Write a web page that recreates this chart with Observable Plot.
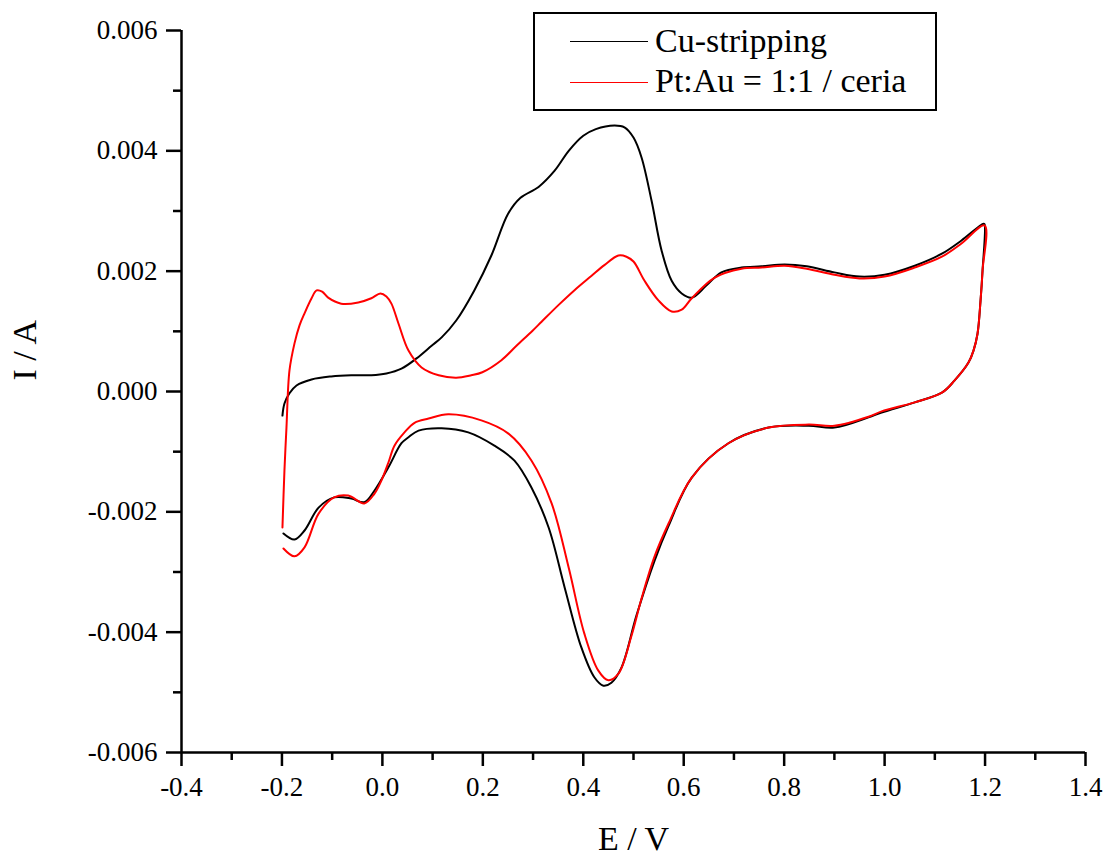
<!DOCTYPE html>
<html>
<head>
<meta charset="utf-8">
<script src="https://cdn.jsdelivr.net/npm/d3@7"></script>
<script src="https://cdn.jsdelivr.net/npm/@observablehq/plot@0.6"></script>
<style>
  html, body { margin: 0; padding: 0; background: #fff; }
  #wrap { position: relative; width: 1106px; height: 858px; font-family: 'Liberation Serif', 'Times New Roman', Times, serif; }
  #legend { position: absolute; left: 533px; top: 12px; width: 400px; height: 95px; border: 2px solid #000; background: #fff; box-sizing: content-box; }
  #legend .sw { position: absolute; left: 35px; width: 78px; height: 0; border-top: 1.5px solid; }
  #legend .lab { position: absolute; left: 120px; font-family: 'Liberation Serif', 'Times New Roman', Times, serif; font-size: 34px; line-height: 34px; color: #000; white-space: nowrap; }
</style>
</head>
<body>
<div id="wrap"></div>
<script>
// Cyclic voltammograms: potential E (V) and current I (A), anodic sweep then cathodic sweep.
const seriesNames = ["Cu-stripping", "Pt:Au = 1:1 / ceria"];
const seriesColors = ["#000000", "#ff0000"];

// Cu-stripping
const cuE = [
  -0.199, -0.195, -0.185, -0.171, -0.141, -0.102, -0.062, -0.022, 0.008, 0.038,
  0.068, 0.098, 0.118, 0.147, 0.183, 0.217, 0.250, 0.275, 0.311, 0.343,
  0.371, 0.400, 0.425, 0.462, 0.482, 0.500, 0.516, 0.536, 0.556, 0.576,
  0.596, 0.616, 0.645, 0.675, 0.715, 0.755, 0.801, 0.845, 0.900, 0.950,
  1.000, 1.060, 1.114, 1.153, 1.197, 1.199,
  1.195, 1.191, 1.185, 1.177, 1.167, 1.139, 1.114, 1.060, 0.994, 0.968,
  0.900, 0.849, 0.769, 0.689, 0.616, 0.570, 0.542, 0.506, 0.476, 0.456,
  0.440, 0.422, 0.396, 0.363, 0.331, 0.297, 0.263, 0.223, 0.171, 0.118,
  0.072, 0.052, 0.038, 0.012, -0.016, -0.036, -0.062, -0.096, -0.127, -0.155,
  -0.175, -0.197
];
const cuI = [
  -0.40e-3, -0.20e-3, -0.03e-3, 0.10e-3, 0.20e-3, 0.25e-3, 0.27e-3, 0.27e-3, 0.30e-3, 0.38e-3,
  0.55e-3, 0.76e-3, 0.90e-3, 1.18e-3, 1.68e-3, 2.26e-3, 2.95e-3, 3.22e-3, 3.40e-3, 3.67e-3,
  4.00e-3, 4.25e-3, 4.36e-3, 4.42e-3, 4.39e-3, 4.22e-3, 3.89e-3, 3.17e-3, 2.34e-3, 1.84e-3,
  1.63e-3, 1.56e-3, 1.76e-3, 1.98e-3, 2.06e-3, 2.08e-3, 2.11e-3, 2.08e-3, 1.98e-3, 1.91e-3,
  1.94e-3, 2.09e-3, 2.29e-3, 2.51e-3, 2.79e-3, 2.78e-3,
  2.01e-3, 1.51e-3, 0.96e-3, 0.68e-3, 0.48e-3, 0.18e-3, -0.02e-3, -0.18e-3, -0.35e-3, -0.43e-3,
  -0.60e-3, -0.57e-3, -0.60e-3, -0.86e-3, -1.43e-3, -2.23e-3, -2.81e-3, -3.72e-3, -4.59e-3, -4.84e-3,
  -4.89e-3, -4.75e-3, -4.25e-3, -3.26e-3, -2.26e-3, -1.60e-3, -1.15e-3, -0.90e-3, -0.68e-3, -0.61e-3,
  -0.65e-3, -0.76e-3, -0.86e-3, -1.26e-3, -1.65e-3, -1.84e-3, -1.78e-3, -1.76e-3, -1.93e-3, -2.31e-3,
  -2.46e-3, -2.36e-3
];

// Pt:Au = 1:1 / ceria
const ptE = [
  -0.199, -0.195, -0.191, -0.185, -0.175, -0.165, -0.155, -0.141, -0.131, -0.120,
  -0.108, -0.082, -0.048, -0.022, -0.004, 0.008, 0.018, 0.032, 0.052, 0.078,
  0.112, 0.147, 0.177, 0.199, 0.237, 0.267, 0.299, 0.317, 0.351, 0.382,
  0.416, 0.442, 0.470, 0.486, 0.500, 0.522, 0.550, 0.576, 0.596, 0.616,
  0.661, 0.715, 0.755, 0.801, 0.845, 0.900, 0.950, 1.000, 1.060, 1.114,
  1.153, 1.199,
  1.195, 1.191, 1.185, 1.177, 1.167, 1.139, 1.114, 1.060, 0.994, 0.968,
  0.900, 0.849, 0.769, 0.689, 0.616, 0.570, 0.542, 0.516, 0.496, 0.470,
  0.450, 0.430, 0.402, 0.371, 0.337, 0.297, 0.251, 0.197, 0.131, 0.092,
  0.064, 0.044, 0.024, 0.012, -0.002, -0.016, -0.036, -0.068, -0.096, -0.127,
  -0.155, -0.175, -0.197
];
const ptI = [
  -2.26e-3, -1.31e-3, -0.60e-3, 0.35e-3, 0.80e-3, 1.10e-3, 1.30e-3, 1.55e-3, 1.68e-3, 1.66e-3,
  1.56e-3, 1.46e-3, 1.48e-3, 1.55e-3, 1.63e-3, 1.58e-3, 1.46e-3, 1.13e-3, 0.68e-3, 0.40e-3,
  0.27e-3, 0.23e-3, 0.27e-3, 0.32e-3, 0.52e-3, 0.76e-3, 1.01e-3, 1.16e-3, 1.44e-3, 1.68e-3,
  1.92e-3, 2.10e-3, 2.26e-3, 2.24e-3, 2.16e-3, 1.84e-3, 1.51e-3, 1.33e-3, 1.36e-3, 1.55e-3,
  1.89e-3, 2.04e-3, 2.06e-3, 2.09e-3, 2.04e-3, 1.94e-3, 1.88e-3, 1.91e-3, 2.06e-3, 2.24e-3,
  2.46e-3, 2.76e-3,
  2.01e-3, 1.51e-3, 0.96e-3, 0.68e-3, 0.48e-3, 0.18e-3, -0.02e-3, -0.18e-3, -0.33e-3, -0.42e-3,
  -0.57e-3, -0.55e-3, -0.60e-3, -0.86e-3, -1.43e-3, -2.19e-3, -2.74e-3, -3.44e-3, -4.06e-3, -4.69e-3,
  -4.80e-3, -4.64e-3, -4.02e-3, -2.93e-3, -1.86e-3, -1.15e-3, -0.70e-3, -0.48e-3, -0.38e-3, -0.45e-3,
  -0.52e-3, -0.68e-3, -0.90e-3, -1.18e-3, -1.48e-3, -1.70e-3, -1.86e-3, -1.73e-3, -1.76e-3, -2.03e-3,
  -2.59e-3, -2.74e-3, -2.61e-3
];

// Axis ticks
const xMajor = [-0.4, -0.2, 0.0, 0.2, 0.4, 0.6, 0.8, 1.0, 1.2, 1.4];
const xMinor = [-0.3, -0.1, 0.1, 0.3, 0.5, 0.7, 0.9, 1.1, 1.3];
const yMajor = [-0.006, -0.004, -0.002, 0.000, 0.002, 0.004, 0.006];
const yMinor = [-0.005, -0.003, -0.001, 0.001, 0.003, 0.005];

const toRows = (E, I) => E.map((e, i) => ({E: e, I: I[i]}));
const cuRows = toRows(cuE, cuI);
const ptRows = toRows(ptE, ptI);

const serif = "'Liberation Serif', 'Times New Roman', Times, serif";

const chart = Plot.plot({
  width: 1106,
  height: 858,
  marginLeft: 181,
  marginRight: 21,
  marginTop: 30,
  marginBottom: 106,
  x: {domain: [-0.4, 1.4]},
  y: {domain: [-0.006, 0.006]},
  style: {fontFamily: serif, fontSize: "28px", color: "#000", background: "#fff"},
  marks: [
    // current curves (black first, red drawn over it)
    Plot.line(cuRows, {x: "E", y: "I", stroke: seriesColors[0], strokeWidth: 2, curve: "catmull-rom"}),
    Plot.line(ptRows, {x: "E", y: "I", stroke: seriesColors[1], strokeWidth: 2, curve: "catmull-rom"}),
    // axis lines
    Plot.ruleX([-0.4], {stroke: "#000", strokeWidth: 2.5}),
    Plot.ruleY([-0.006], {stroke: "#000", strokeWidth: 2.5}),
    // y axis
    Plot.axisY(yMajor, {tickSize: 15, tickPadding: 9, strokeWidth: 2.5, tickFormat: d => d.toFixed(3), fontSize: 27, fontFamily: serif, fontVariant: "normal", label: null}),
    Plot.axisY(yMinor, {tickSize: 8, strokeWidth: 2.5, tickFormat: () => "", label: null}),
    // x axis
    Plot.axisX(xMajor, {tickSize: 14, tickPadding: 10, strokeWidth: 2.5, tickFormat: d => d.toFixed(1), fontSize: 27, fontFamily: serif, fontVariant: "normal", label: null}),
    Plot.axisX(xMinor, {tickSize: 8, strokeWidth: 2.5, tickFormat: () => "", label: null}),
    // axis titles
    Plot.text(["I / A"], {frameAnchor: "left", dx: -156, dy: -11, rotate: -90, fontSize: 34, fontFamily: serif, fill: "#000", lineAnchor: "middle"}),
    Plot.text(["E / V"], {frameAnchor: "bottom", dy: 87, fontSize: 34, fontFamily: serif, fill: "#000", lineAnchor: "middle"})
  ]
});

const wrap = document.getElementById("wrap");
wrap.appendChild(chart);

// legend box inside the plot area
const legend = document.createElement("div");
legend.id = "legend";
const swatchTops = [27, 68];
const labelTops = [10, 50];
seriesNames.forEach((name, i) => {
  const sw = document.createElement("div");
  sw.className = "sw";
  sw.style.top = swatchTops[i] + "px";
  sw.style.borderTopColor = seriesColors[i];
  const label = document.createElement("div");
  label.className = "lab";
  label.style.top = labelTops[i] + "px";
  label.textContent = name;
  legend.appendChild(sw);
  legend.appendChild(label);
});
wrap.appendChild(legend);
</script>
</body>
</html>
